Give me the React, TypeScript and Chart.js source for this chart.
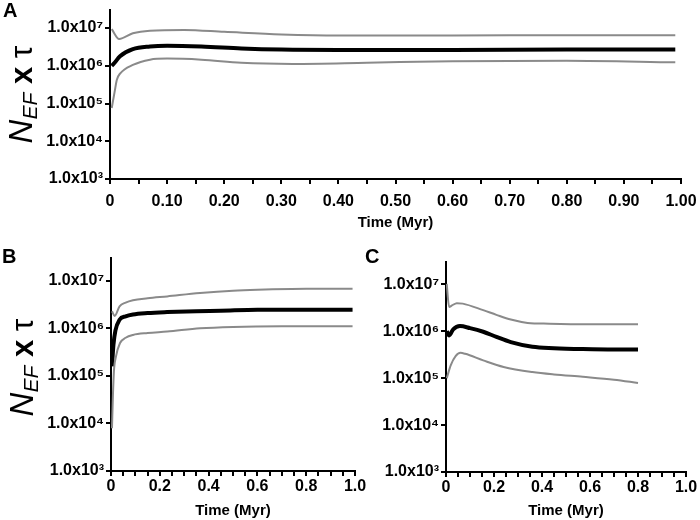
import React, { useEffect, useRef } from "react";
import { Chart, registerables } from "chart.js";

Chart.register(...registerables);

const FONT = "'Liberation Sans', Arial, Helvetica, sans-serif";
Chart.defaults.font.family = FONT;

// ---------- Panel A ----------
const timeAUpper = [0.003, 0.016, 0.04, 0.07, 0.13, 0.2, 0.3, 0.4, 0.6, 0.8, 0.99];
const upperA = [9.33e6, 5.13e6, 7.24e6, 8.51e6, 8.91e6, 7.94e6, 6.76e6, 6.31e6, 6.31e6, 6.46e6, 6.46e6];
const timeAMid = [0.003, 0.008, 0.0175, 0.04, 0.07, 0.1, 0.16, 0.23, 0.3, 0.4, 0.6, 0.8, 0.99];
const midA = [1.0e6, 1.2e6, 1.78e6, 2.75e6, 3.24e6, 3.39e6, 3.24e6, 2.88e6, 2.69e6, 2.63e6, 2.63e6, 2.69e6, 2.69e6];
const timeALower = [0.003, 0.008, 0.012, 0.018, 0.04, 0.07, 0.1, 0.16, 0.23, 0.32, 0.45, 0.6, 0.8, 0.99];
const lowerA = [7.6e4, 2.0e5, 4.27e5, 6.31e5, 1.05e6, 1.45e6, 1.55e6, 1.45e6, 1.2e6, 1.12e6, 1.2e6, 1.32e6, 1.35e6, 1.23e6];

// ---------- Panel B ----------
const timeBUpper = [0.004, 0.015, 0.035, 0.06, 0.09, 0.15, 0.23, 0.365, 0.5, 0.6, 0.8, 0.99];
const upperB = [2.29e6, 1.82e6, 2.88e6, 3.47e6, 3.89e6, 4.27e6, 4.68e6, 5.5e6, 6.17e6, 6.46e6, 6.76e6, 6.76e6];
const timeBMid = [0.004, 0.01, 0.018, 0.035, 0.06, 0.09, 0.15, 0.23, 0.35, 0.45, 0.6, 0.8, 0.99];
const midB = [1.58e5, 4.47e5, 8.91e5, 1.51e6, 1.78e6, 1.95e6, 2.09e6, 2.19e6, 2.29e6, 2.34e6, 2.45e6, 2.45e6, 2.45e6];
const timeBLower = [0.004, 0.008, 0.012, 0.02, 0.037, 0.06, 0.09, 0.15, 0.23, 0.365, 0.5, 0.7, 0.99];
const lowerB = [7.9e3, 4.0e4, 1.26e5, 2.51e5, 4.9e5, 6.31e5, 7.24e5, 7.94e5, 8.51e5, 1.0e6, 1.07e6, 1.1e6, 1.1e6];

// ---------- Panel C ----------
const timeCUpper = [0.003, 0.013, 0.025, 0.045, 0.07, 0.155, 0.21, 0.27, 0.34, 0.43, 0.6, 0.8];
const upperC = [1.02e7, 3.31e6, 3.55e6, 3.98e6, 3.89e6, 2.82e6, 2.24e6, 1.78e6, 1.51e6, 1.45e6, 1.41e6, 1.41e6];
const timeCMid = [0.003, 0.013, 0.03, 0.058, 0.1, 0.155, 0.21, 0.27, 0.36, 0.45, 0.57, 0.7, 0.8];
const midC = [1.0e6, 8.13e5, 1.1e6, 1.29e6, 1.17e6, 9.77e5, 7.59e5, 5.89e5, 4.68e5, 4.37e5, 4.17e5, 4.07e5, 4.07e5];
const timeCLower = [0.003, 0.02, 0.04, 0.06, 0.08, 0.155, 0.24, 0.36, 0.45, 0.57, 0.7, 0.8];
const lowerC = [1.0e5, 1.9e5, 2.95e5, 3.47e5, 3.31e5, 2.4e5, 1.74e5, 1.35e5, 1.2e5, 1.07e5, 9.3e4, 7.9e4];

// ---------- Axes ----------
const yTickValues = [1e3, 1e4, 1e5, 1e6, 1e7];
const yTickLabels = ["1.0x10\u00B3", "1.0x10\u2074", "1.0x10\u2075", "1.0x10\u2076", "1.0x10\u2077"];
const xTickValues = [0, 0.05, 0.1, 0.15, 0.2, 0.25, 0.3, 0.35, 0.4, 0.45, 0.5, 0.55, 0.6, 0.65, 0.7, 0.75, 0.8, 0.85, 0.9, 0.95, 1.0];
const xTickLabelsA = ["0", "", "0.10", "", "0.20", "", "0.30", "", "0.40", "", "0.50", "", "0.60", "", "0.70", "", "0.80", "", "0.90", "", "1.00"];
const xTickLabelsBC = ["0", "", "", "", "0.2", "", "", "", "0.4", "", "", "", "0.6", "", "", "", "0.8", "", "", "", "1.0"];
const xTitle = "Time (Myr)";
const Y_MIN = 1e3;
const Y_MAX = 3e7;

const GRAY = "#8a8a8a";

function pts(t: number[], v: number[]) {
  return t.map((x, i) => ({ x, y: v[i] }));
}

function yTitlePlugin(baseX: number, dy: number) {
  return {
    id: "ytitle",
    afterDraw(chart: any) {
      const { ctx, chartArea } = chart;
      const cy = (chartArea.top + chartArea.bottom) / 2 + dy;
      const parts = [
        { text: "N", font: `italic 33px ${FONT}`, off: 0 },
        { text: "EF", font: `italic 21px ${FONT}`, off: 5 },
        { text: " x ", font: `bold 31px ${FONT}`, off: 0 },
        { text: "\u03C4", font: `32px ${FONT}`, off: 0 },
      ];
      ctx.save();
      let total = 0;
      const widths = parts.map((p) => {
        ctx.font = p.font;
        const w = ctx.measureText(p.text).width;
        total += w;
        return w;
      });
      ctx.translate(baseX, cy);
      ctx.rotate(-Math.PI / 2);
      ctx.fillStyle = "#000";
      ctx.textBaseline = "alphabetic";
      ctx.textAlign = "left";
      let x = -total / 2;
      parts.forEach((p, i) => {
        ctx.font = p.font;
        ctx.fillText(p.text, x, p.off);
        x += widths[i];
      });
      ctx.restore();
    },
  };
}

interface PanelProps {
  left: number;
  top: number;
  width: number;
  height: number;
  padTop: number;
  padRight: number;
  yWidth: number;
  xHeight: number;
  xLabels: string[];
  tickPad: number;
  titlePad: number;
  yTitle: null | { baseX: number; dy: number };
  upper: { x: number; y: number }[];
  mid: { x: number; y: number }[];
  lower: { x: number; y: number }[];
}

function Panel(p: PanelProps) {
  const ref = useRef<HTMLCanvasElement>(null);
  useEffect(() => {
    if (!ref.current) return;
    const plugins: any[] = [];
    if (p.yTitle) plugins.push(yTitlePlugin(p.yTitle.baseX, p.yTitle.dy));
    const chart = new Chart(ref.current, {
      type: "line",
      data: {
        datasets: [
          { data: p.upper, borderColor: GRAY, borderWidth: 2, pointRadius: 0, cubicInterpolationMode: "monotone", fill: false },
          { data: p.lower, borderColor: GRAY, borderWidth: 2, pointRadius: 0, cubicInterpolationMode: "monotone", fill: false },
          { data: p.mid, borderColor: "#000", borderWidth: 4, pointRadius: 0, cubicInterpolationMode: "monotone", fill: false },
        ],
      },
      options: {
        responsive: false,
        animation: false,
        devicePixelRatio: 1,
        layout: { padding: { top: p.padTop, right: p.padRight, left: 0, bottom: 0 } },
        plugins: { legend: { display: false }, tooltip: { enabled: false } },
        scales: {
          x: {
            type: "linear",
            min: 0,
            max: 1,
            afterBuildTicks: (s: any) => {
              s.ticks = xTickValues.map((v) => ({ value: v }));
            },
            afterFit: (s: any) => {
              s.height = p.xHeight;
              s.paddingLeft = 0;
              s.paddingRight = 0;
            },
            ticks: {
              autoSkip: false,
              maxRotation: 0,
              minRotation: 0,
              padding: p.tickPad,
              color: "#000",
              font: { size: 16, weight: "bold" },
              callback: (_v: any, i: number) => p.xLabels[i],
            },
            grid: { drawOnChartArea: false, drawTicks: true, tickLength: 5, color: "#000", lineWidth: 2 },
            border: { display: true, color: "#000", width: 2 },
            title: {
              display: true,
              text: xTitle,
              color: "#000",
              font: { size: 15, weight: "bold" },
              padding: { top: 0, bottom: p.titlePad },
            },
          },
          y: {
            type: "logarithmic",
            min: Y_MIN,
            max: Y_MAX,
            afterBuildTicks: (s: any) => {
              s.ticks = yTickValues.map((v) => ({ value: v }));
            },
            afterFit: (s: any) => {
              s.width = p.yWidth;
              s.paddingTop = 0;
              s.paddingBottom = 0;
            },
            ticks: {
              autoSkip: false,
              padding: 2,
              color: "#000",
              font: { size: 16, weight: "bold" },
              callback: (_v: any, i: number) => yTickLabels[i],
            },
            grid: { drawOnChartArea: false, drawTicks: true, tickLength: 5, color: "#000", lineWidth: 2 },
            border: { display: true, color: "#000", width: 2 },
          },
        },
      } as any,
      plugins,
    });
    return () => chart.destroy();
  }, []);
  return (
    <canvas
      ref={ref}
      width={p.width}
      height={p.height}
      style={{ position: "absolute", left: p.left, top: p.top, width: p.width, height: p.height }}
    />
  );
}

const letterStyle: React.CSSProperties = {
  position: "absolute",
  fontFamily: FONT,
  fontWeight: "bold",
  fontSize: 20,
  lineHeight: "20px",
  color: "#000",
};

export default function App() {
  return (
    <div style={{ position: "absolute", left: 0, top: 0, width: 700, height: 520, background: "#fff", overflow: "hidden" }}>
      <Panel
        left={0} top={0} width={700} height={240}
        padTop={10} padRight={19} yWidth={110} xHeight={61}
        xLabels={xTickLabelsA} tickPad={8} titlePad={8}
        yTitle={{ baseX: 32, dy: 0 }}
        upper={pts(timeAUpper, upperA)} mid={pts(timeAMid, midA)} lower={pts(timeALower, lowerA)}
      />
      <Panel
        left={0} top={240} width={380} height={280}
        padTop={18} padRight={25} yWidth={111} xHeight={49}
        xLabels={xTickLabelsBC} tickPad={1} titlePad={0}
        yTitle={{ baseX: 33, dy: 3 }}
        upper={pts(timeBUpper, upperB)} mid={pts(timeBMid, midB)} lower={pts(timeBLower, lowerB)}
      />
      <Panel
        left={350} top={240} width={350} height={280}
        padTop={22} padRight={14} yWidth={96} xHeight={48}
        xLabels={xTickLabelsBC} tickPad={1} titlePad={0}
        yTitle={null}
        upper={pts(timeCUpper, upperC)} mid={pts(timeCMid, midC)} lower={pts(timeCLower, lowerC)}
      />
      <div style={{ ...letterStyle, left: 3, top: 0 }}>A</div>
      <div style={{ ...letterStyle, left: 2, top: 246 }}>B</div>
      <div style={{ ...letterStyle, left: 365, top: 246 }}>C</div>
    </div>
  );
}
